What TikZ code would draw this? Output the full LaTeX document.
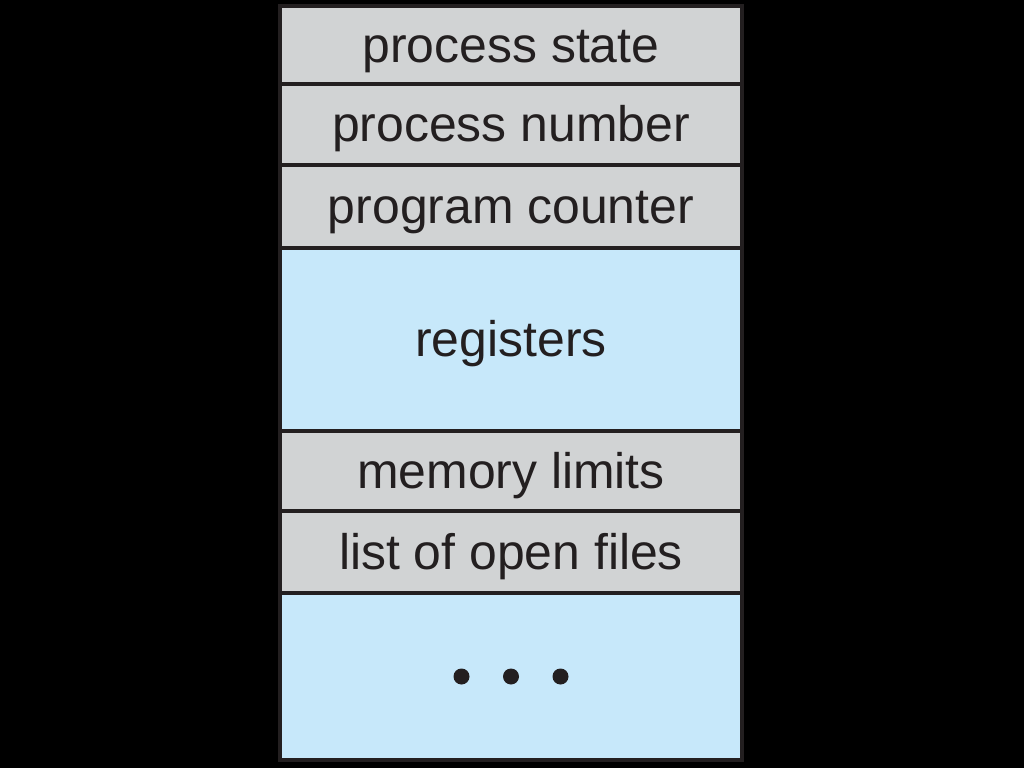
\documentclass[tikz,border=0pt]{standalone}
\usepackage{fontspec}
\setmainfont{Liberation Sans}
\usetikzlibrary{positioning}
\definecolor{pcbink}{HTML}{231F20}
\definecolor{pcbgray}{HTML}{D1D3D4}
\definecolor{pcbblue}{HTML}{C7E8FA}
\tikzset{
  field/.style={
    draw=pcbink,
    line width=0.9pt,
    fill=pcbgray,
    minimum width=4.62cm,
    outer sep=0pt,
    inner sep=0pt,
    text height=0.34cm,
    text depth=0cm,
    text=pcbink,
    font=\fontsize{14.2}{16}\selectfont
  },
  bigfield/.style={
    field,
    fill=pcbblue
  }
}
\begin{document}
\begin{tikzpicture}
\fill[black] (0,0) rectangle (10.24,-7.68);
\useasboundingbox (0,0) rectangle (10.24,-7.68);
\node[field, minimum height=0.78cm, anchor=north] (state) at (5.11,-0.06) {process state};
\node[field, minimum height=0.81cm, below=0pt of state] (number) {process number};
\node[field, minimum height=0.83cm, below=0pt of number] (counter) {program counter};
\node[bigfield, minimum height=1.83cm, below=0pt of counter] (regs) {registers};
\node[field, minimum height=0.80cm, below=0pt of regs] (limits) {memory limits};
\node[field, minimum height=0.82cm, below=0pt of limits] (files) {list of open files};
\node[bigfield, minimum height=1.67cm, below=0pt of files] (more) {};
% the three dots
\foreach \dx in {-0.495,0,0.495}
  \fill[pcbink] ([xshift=\dx cm]more.center) circle (0.08);
\end{tikzpicture}
\end{document}
